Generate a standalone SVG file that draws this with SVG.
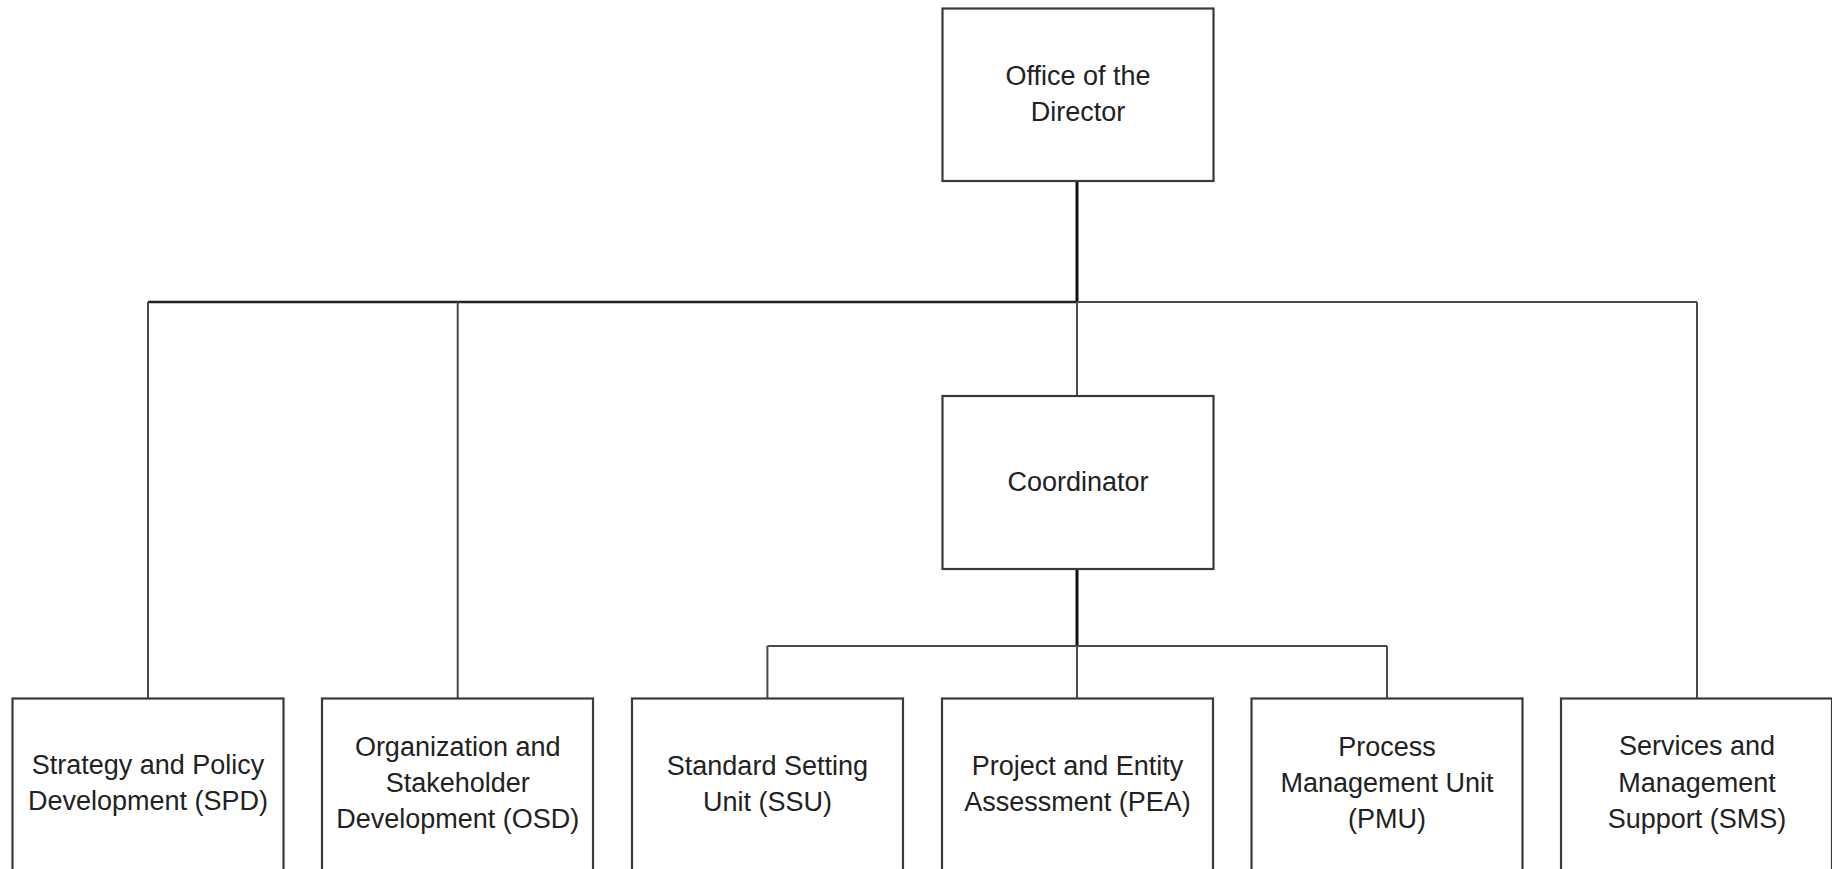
<svg xmlns="http://www.w3.org/2000/svg" width="1832" height="869" viewBox="0 0 1832 869">
<style>
.box{fill:#fff;stroke:#3a3a3a;stroke-width:2.2}
.t{font-family:"Liberation Sans",Arial,sans-serif;font-size:27px;fill:#222;text-anchor:middle}
.ln{fill:none;stroke:#4a4a4a;stroke-width:2}
.thick{fill:none;stroke:#111;stroke-width:3}
</style>
<rect width="1832" height="869" fill="#fff"/>
<g id="connectors">
<path class="thick" d="M1077 181V302"/>
<path class="ln" d="M148 302H1077" style="stroke:#222;stroke-width:2.6"/>
<path class="ln" d="M1077 302H1697"/>
<path class="ln" d="M148 302V698M457.7 302V698M1077 302V396M1697 302V698"/>
<path class="thick" d="M1077 569V646"/>
<path class="ln" d="M767.4 646H1387M767.4 646V698M1077 646V698M1387 646V698"/>
</g>
<g id="director">
<rect class="box" x="942.5" y="8.5" width="271" height="172.5"/>
<text class="t" x="1078" y="85">Office of the</text>
<text class="t" x="1078" y="121">Director</text>
</g>
<g id="coordinator">
<rect class="box" x="942.5" y="396" width="271" height="173"/>
<text class="t" x="1078" y="491">Coordinator</text>
</g>
<g id="spd">
<rect class="box" x="12.5" y="698.5" width="271" height="175"/>
<text class="t" x="148" y="774">Strategy and Policy</text>
<text class="t" x="148" y="810">Development (SPD)</text>
</g>
<g id="osd">
<rect class="box" x="322" y="698.5" width="271" height="175"/>
<text class="t" x="457.7" y="756">Organization and</text>
<text class="t" x="457.7" y="792">Stakeholder</text>
<text class="t" x="457.7" y="828">Development (OSD)</text>
</g>
<g id="ssu">
<rect class="box" x="632" y="698.5" width="271" height="175"/>
<text class="t" x="767.4" y="775">Standard Setting</text>
<text class="t" x="767.4" y="811">Unit (SSU)</text>
</g>
<g id="pea">
<rect class="box" x="942" y="698.5" width="271" height="175"/>
<text class="t" x="1077.5" y="775">Project and Entity</text>
<text class="t" x="1077.5" y="811">Assessment (PEA)</text>
</g>
<g id="pmu">
<rect class="box" x="1251.5" y="698.5" width="271" height="175"/>
<text class="t" x="1387" y="756">Process</text>
<text class="t" x="1387" y="792">Management Unit</text>
<text class="t" x="1387" y="828">(PMU)</text>
</g>
<g id="sms">
<rect class="box" x="1561" y="698.5" width="271" height="175"/>
<text class="t" x="1697" y="755">Services and</text>
<text class="t" x="1697" y="792">Management</text>
<text class="t" x="1697" y="828">Support (SMS)</text>
</g>
</svg>
